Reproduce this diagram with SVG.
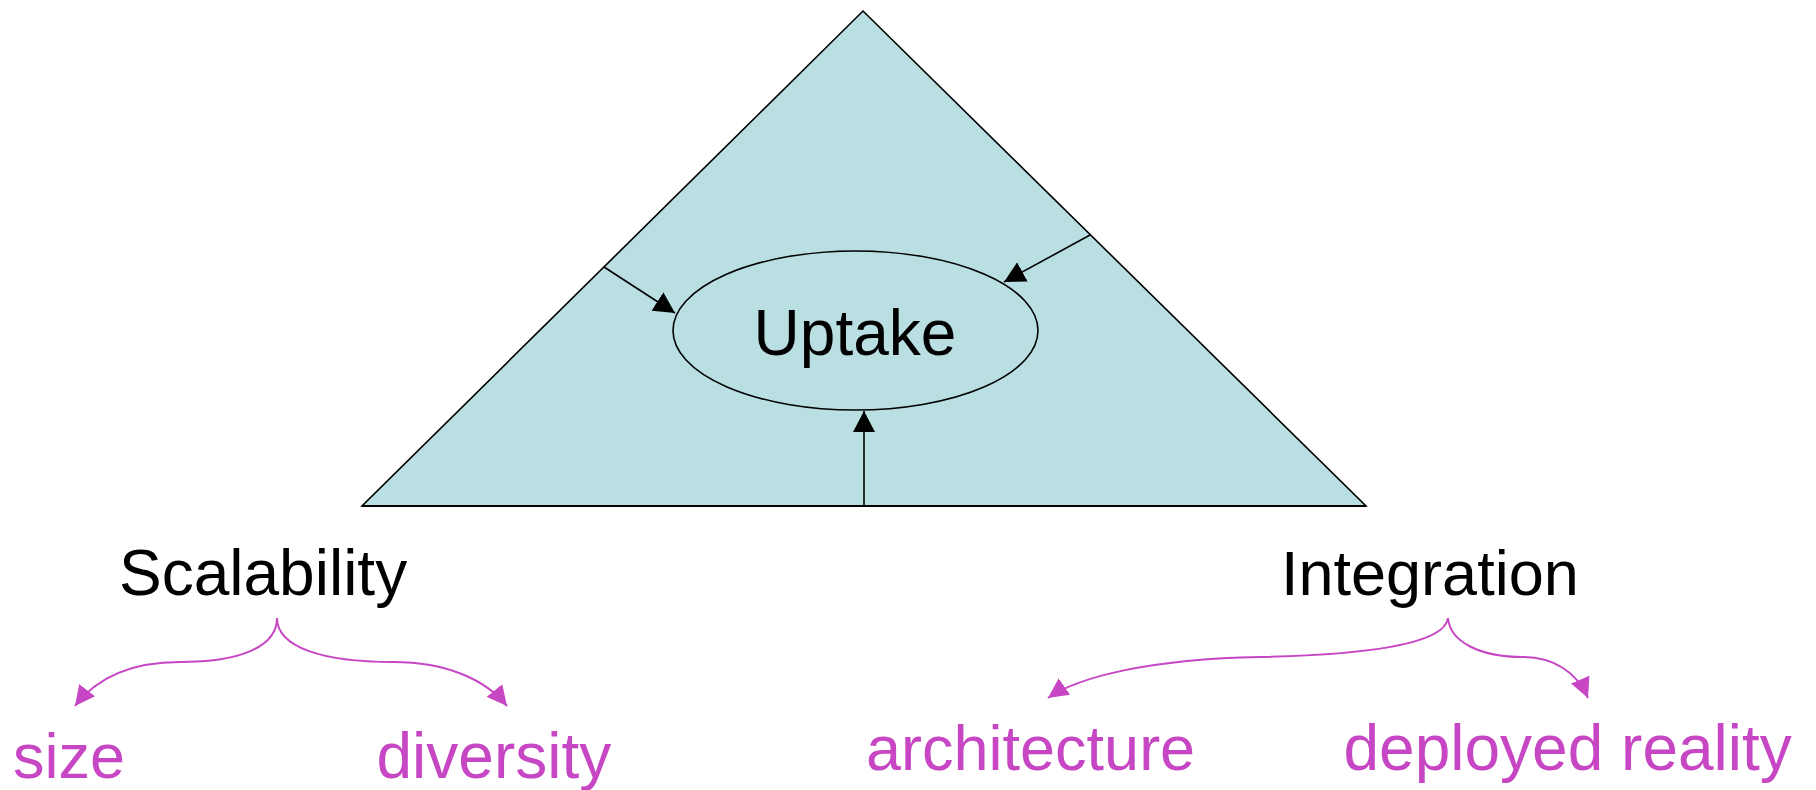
<svg xmlns="http://www.w3.org/2000/svg" width="1816" height="790" viewBox="0 0 1816 790">
<style>
  .lbl { font-family: "Liberation Sans", Arial, sans-serif; font-size: 63px; }
  .big { font-size: 64px; }
  .blk { fill: #000000; }
  .mag { fill: #C646C3; }
  .edge { fill: none; stroke: #000000; stroke-width: 1.6; }
  .brace { fill: none; stroke: #C646C3; stroke-width: 2; }
</style>
<defs>
  <marker id="ahBlack" markerUnits="userSpaceOnUse" markerWidth="22" markerHeight="22" refX="21" refY="11" orient="auto" viewBox="0 0 22 22">
    <path d="M0,0 L21,11 L0,22 z" fill="#000000"/>
  </marker>
  <marker id="ahMag" markerUnits="userSpaceOnUse" markerWidth="21" markerHeight="20" refX="20" refY="10" orient="auto" viewBox="0 0 21 20">
    <path d="M0,0 L20,10 L0,20 z" fill="#C646C3"/>
  </marker>
</defs>

<g id="triangle">
  <polygon points="863,11 1366,506 362,506" fill="#B9DFE2" stroke="#000000" stroke-width="1.6" stroke-linejoin="miter"/>
  <line x1="362" y1="506" x2="1366" y2="506" stroke="#000000" stroke-width="2.2"/>
</g>

<g id="uptake">
  <ellipse cx="855.5" cy="330.5" rx="182.5" ry="79.5" fill="#B9DFE2" stroke="#000000" stroke-width="1.6"/>
  <text class="lbl big blk" x="855" y="355" text-anchor="middle">Uptake</text>
</g>

<g id="scalability">
  <text class="lbl big blk" x="119" y="595">Scalability</text>
</g>
<g id="integration">
  <text class="lbl blk" x="1281" y="595">Integration</text>
</g>
<g id="size">
  <text class="lbl mag" x="13" y="778">size</text>
</g>
<g id="diversity">
  <text class="lbl big mag" x="376.5" y="778">diversity</text>
</g>
<g id="architecture">
  <text class="lbl mag" x="866" y="770">architecture</text>
</g>
<g id="deployed-reality">
  <text class="lbl big mag" x="1343.5" y="770">deployed reality</text>
</g>

<g id="connectors">
  <line class="edge" x1="604" y1="267" x2="675" y2="313" marker-end="url(#ahBlack)"/>
  <line class="edge" x1="1090" y1="235" x2="1004" y2="282" marker-end="url(#ahBlack)"/>
  <line class="edge" x1="864" y1="506" x2="864" y2="411" marker-end="url(#ahBlack)"/>

  <path class="brace" d="M277,618 C277,647 240,662 180,662 C128,662 95,680 75,706" marker-end="url(#ahMag)"/>
  <path class="brace" d="M277,618 C277,647 322,662 393,662 C447,662 486,680 507,706" marker-end="url(#ahMag)"/>
  <path class="brace" d="M1448,618 C1445,645 1360,655 1260,657 C1150,659 1078,677 1048,698" marker-end="url(#ahMag)"/>
  <path class="brace" d="M1448,618 C1450,642 1480,657 1523,657 C1553,657 1577,672 1588,698" marker-end="url(#ahMag)"/>
</g>
</svg>
